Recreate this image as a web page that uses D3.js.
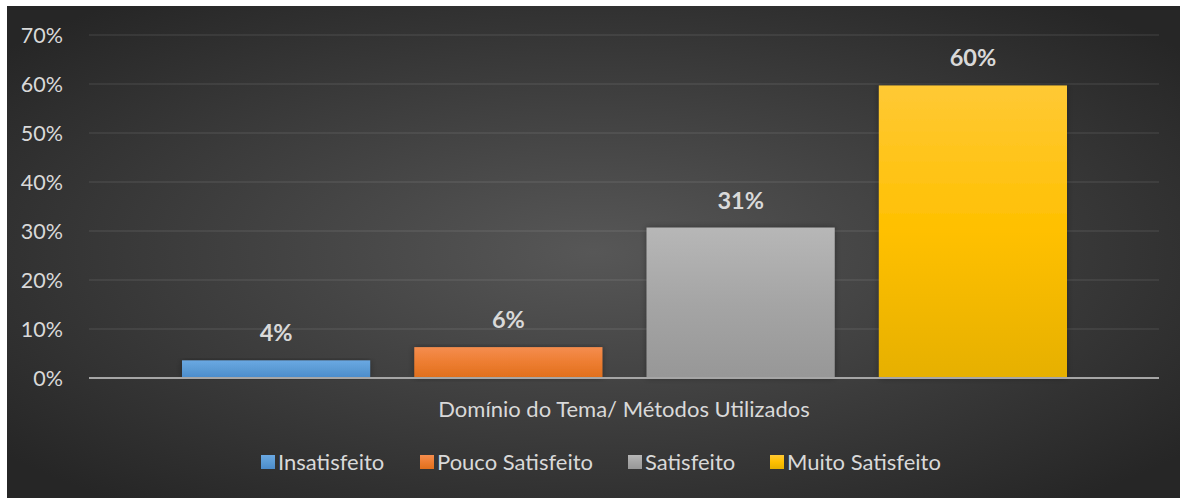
<!DOCTYPE html>
<html>
<head>
<meta charset="utf-8">
<script src="https://cdn.jsdelivr.net/npm/d3@7"></script>
<style>
  body { margin: 0; background: #fff; }
  svg { display: block; }
</style>
</head>
<body>
<div id="chart"></div>
<script>
// chart data
const category = "Domínio do Tema/ Métodos Utilizados";
const seriesNames = ["Insatisfeito", "Pouco Satisfeito", "Satisfeito", "Muito Satisfeito"];
const seriesValues = [0.036, 0.063, 0.307, 0.597];
const valueLabels = ["4%", "6%", "31%", "60%"];
const yTicks = [0, 0.1, 0.2, 0.3, 0.4, 0.5, 0.6, 0.7];

// colours: [top, middle, bottom] of each bar gradient
const barColors = [
  ["#6aa8e2", "#5b9bd5", "#4a8bcb"],
  ["#f58d4e", "#ed7d31", "#e06f1c"],
  ["#b7b7b7", "#a5a5a5", "#979797"],
  ["#ffc935", "#ffc000", "#e6b000"]
];

const width = 1180, height = 498;
const margin = { top: 35, right: 21, bottom: 120, left: 89 };
const plotH = 343;

const svg = d3.select("#chart").append("svg")
  .attr("width", width)
  .attr("height", height);

const defs = svg.append("defs");

// background radial gradient
const bg = defs.append("radialGradient")
  .attr("id", "bg")
  .attr("cx", "50%").attr("cy", "50%").attr("r", "65%");
bg.append("stop").attr("offset", "0%").attr("stop-color", "#575757");
bg.append("stop").attr("offset", "100%").attr("stop-color", "#262626");

barColors.forEach((c, i) => {
  const g = defs.append("linearGradient")
    .attr("id", "bar" + i)
    .attr("x1", 0).attr("y1", 0).attr("x2", 0).attr("y2", 1);
  g.append("stop").attr("offset", "0%").attr("stop-color", c[0]);
  g.append("stop").attr("offset", "50%").attr("stop-color", c[1]);
  g.append("stop").attr("offset", "100%").attr("stop-color", c[2]);
});

const shadow = defs.append("filter").attr("id", "shadow")
  .attr("x", "-10%").attr("y", "-10%").attr("width", "120%").attr("height", "120%");
shadow.append("feDropShadow")
  .attr("dx", 0).attr("dy", 0).attr("stdDeviation", 3)
  .attr("flood-color", "#000").attr("flood-opacity", 0.35);

svg.append("rect")
  .attr("x", 7).attr("y", 6)
  .attr("width", width - 7).attr("height", height - 6)
  .attr("fill", "url(#bg)");

const x0 = margin.left, x1 = width - margin.right;

const y = d3.scaleLinear()
  .domain([0, 0.7])
  .range([margin.top + plotH, margin.top]);

// outer band for the single category, inner band for the series
const xCat = d3.scaleBand()
  .domain([category])
  .range([x0, x1]);

const xSeries = d3.scaleBand()
  .domain(seriesNames)
  .range([xCat(category) + 93, xCat(category) + xCat.bandwidth() - 92])
  .paddingInner(0.19)
  .paddingOuter(0);

const font = "Lato, 'Open Sans', sans-serif";
const textColor = "#d9d9d9";

// gridlines
svg.append("g")
  .selectAll("line")
  .data(yTicks.filter(d => d > 0))
  .join("line")
  .attr("x1", x0).attr("x2", x1)
  .attr("y1", d => y(d)).attr("y2", d => y(d))
  .attr("stroke", "rgba(255,255,255,0.09)")
  .attr("stroke-width", 1.5);

// y axis labels
const yAxis = svg.append("g")
  .attr("transform", `translate(${x0 - 23},0)`)
  .call(d3.axisLeft(y).tickValues(yTicks).tickFormat(d3.format(".0%")).tickSize(0));
yAxis.select(".domain").remove();
yAxis.selectAll("text")
  .attr("fill", textColor)
  .attr("font-family", font)
  .attr("font-size", 21.5)
  .attr("dy", "0.35em");

// bars
svg.append("g")
  .selectAll("rect")
  .data(seriesValues)
  .join("rect")
  .attr("x", (d, i) => xSeries(seriesNames[i]))
  .attr("y", d => y(d))
  .attr("width", xSeries.bandwidth())
  .attr("height", d => y(0) - y(d))
  .attr("fill", (d, i) => `url(#bar${i})`)
  .attr("filter", "url(#shadow)");

// value labels
svg.append("g")
  .selectAll("text")
  .data(seriesValues)
  .join("text")
  .attr("x", (d, i) => xSeries(seriesNames[i]) + xSeries.bandwidth() / 2)
  .attr("y", d => y(d) - 19)
  .attr("text-anchor", "middle")
  .attr("fill", textColor)
  .attr("font-family", font)
  .attr("font-weight", "bold")
  .attr("font-size", 23.5)
  .text((d, i) => valueLabels[i]);

// x axis baseline
svg.append("line")
  .attr("x1", x0).attr("x2", x1)
  .attr("y1", y(0)).attr("y2", y(0))
  .attr("stroke", "#a6a6a6")
  .attr("stroke-width", 2);

// category label
svg.append("text")
  .attr("x", xCat(category) + xCat.bandwidth() / 2)
  .attr("y", 417)
  .attr("text-anchor", "middle")
  .attr("fill", textColor)
  .attr("font-family", font)
  .attr("font-size", 22)
  .text(category);

// legend
const legendX = [261, 420, 628, 770];
const legend = svg.append("g")
  .selectAll("g")
  .data(seriesNames)
  .join("g")
  .attr("transform", (d, i) => `translate(${legendX[i]},455)`);
legend.append("rect")
  .attr("width", 14).attr("height", 14)
  .attr("fill", (d, i) => `url(#bar${i})`);
legend.append("text")
  .attr("x", 17).attr("y", 15)
  .attr("fill", textColor)
  .attr("font-family", font)
  .attr("font-size", 22)
  .text(d => d);
</script>
</body>
</html>
